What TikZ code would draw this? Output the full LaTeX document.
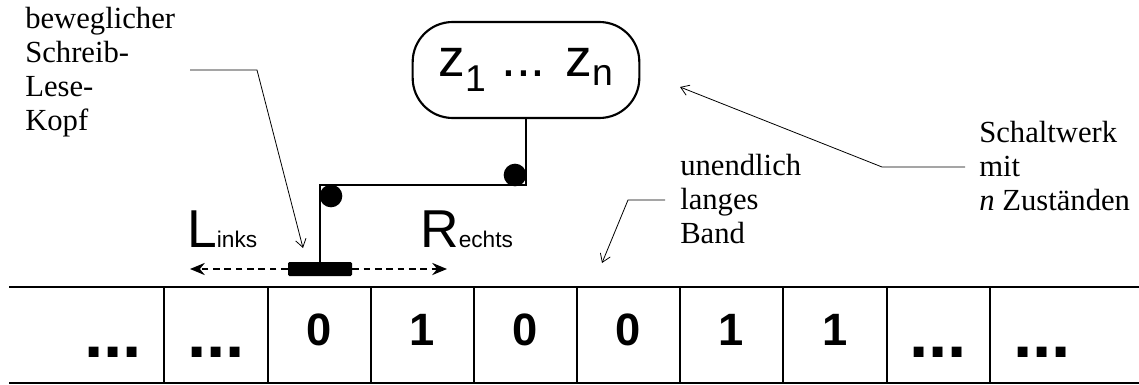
\documentclass[tikz,border=0pt]{standalone}
\usepackage{fontspec}
\setmainfont{Liberation Serif}
\newfontfamily\arial{Liberation Sans}
\usepackage{tikz}
\usetikzlibrary{arrows.meta,positioning}

\begin{document}
\begin{tikzpicture}[
    x=0.75pt, y=-0.75pt,
    tape/.style={line width=2.2pt, color=black},
    digit/.style={font=\arial\bfseries\fontsize{34}{34}\selectfont, anchor=base, inner sep=0pt},
    dots/.style={font=\arial\bfseries\fontsize{52}{52}\selectfont, anchor=base, inner sep=0pt},
    state/.style={
      draw, line width=1.6pt, rounded corners=30pt,
      minimum width=170pt, minimum height=72pt,
      font=\arial\fontsize{40}{44}\selectfont
    },
    head/.style={fill=black, rounded corners=1pt, inner sep=0pt,
      minimum width=48pt, minimum height=10.5pt},
    ball/.style={circle, fill=black, inner sep=0pt, minimum size=17pt},
    wire/.style={line width=2pt},
    move/.style={-{Stealth[length=11pt,width=9pt]}, line width=2.2pt,
      dash pattern=on 5pt off 3.5pt},
    dir/.style={font=\arial\fontsize{40}{40}\selectfont, anchor=base west, inner sep=0pt},
    note/.style={font=\fontsize{23}{25.5}\selectfont, align=left,
      anchor=north west, inner sep=0pt},
    ptr/.style={-{Straight Barb[length=6pt,width=8pt]}, line width=0.6pt}
  ]
  \useasboundingbox (0,0) rectangle (1139,385);

  % Band
  \draw[tape] (9,287) -- (1139,287);
  \draw[tape] (9,383) -- (1139,383);
  \draw[tape] (164,287) -- (164,383);
  \draw[tape] (268,287) -- (268,383);
  \draw[tape] (371,287) -- (371,383);
  \draw[tape] (474,287) -- (474,383);
  \draw[tape] (577,287) -- (577,383);
  \draw[tape] (680,287) -- (680,383);
  \draw[tape] (783,287) -- (783,383);
  \draw[tape] (887,287) -- (887,383);
  \draw[tape] (990,287) -- (990,383);

  \node[dots]  (c1) at (113,357)  {...};
  \node[dots]  (c2) at (216,357)  {...};
  \node[digit] (c3) at (319,345)  {0};
  \node[digit] (c4) at (422,345)  {1};
  \node[digit] (c5) at (525,345)  {0};
  \node[digit] (c6) at (628,345)  {0};
  \node[digit] (c7) at (731,345)  {1};
  \node[digit] (c8) at (835,345)  {1};
  \node[dots]  (c9) at (938,357)  {...};
  \node[dots]  (c10) at (1042,357) {...};

  % Schaltwerk und Kopf
  \node[state] (sw) at (526,70) {z\textsubscript{1} ... z\textsubscript{n}};
  \node[head] (kopf) at (320,269) {};

  \coordinate (knickL) at (320,185);
  \coordinate (knickR) at (526,185);
  \draw[wire] (kopf.north) -- (knickL) -- (knickR) -- (sw.south);
  \node[ball] (gelenkL) at (331,196) {};
  \node[ball] (gelenkR) at (515,175) {};

  % Bewegungsrichtungen
  \coordinate (linksEnd)  at (190,269);
  \coordinate (rechtsEnd) at (447,269);
  \draw[move] (kopf.west) -- (linksEnd);
  \draw[move] (kopf.east) -- (rechtsEnd);
  \node[dir] (links)  at (187,247) {L{\fontsize{17}{17}\selectfont inks}};
  \node[dir] (rechts) at (420,247) {R{\fontsize{17}{17}\selectfont echts}};

  % Beschriftungen
  \node[note] (kopfTxt) at (25,7)   {beweglicher\\Schreib-\\Lese-\\Kopf};
  \node[note] (bandTxt) at (680,154) {unendlich\\langes\\Band};
  \node[note] (swTxt)   at (979,121) {Schaltwerk\\mit\\\textit{n} Zust\"anden};

  \coordinate (kopfA) at (190,70);
  \coordinate (kopfB) at (257,70);
  \coordinate (kopfZ) at (303,248);
  \draw[ptr] (kopfA) -- (kopfB) -- (kopfZ);

  \coordinate (bandA) at (665,200);
  \coordinate (bandB) at (628,200);
  \coordinate (bandZ) at (602,263);
  \draw[ptr] (bandA) -- (bandB) -- (bandZ);

  \coordinate (swA) at (965,167);
  \coordinate (swB) at (882,167);
  \coordinate (swZ) at (680,87);
  \draw[ptr] (swA) -- (swB) -- (swZ);

\end{tikzpicture}
\end{document}
